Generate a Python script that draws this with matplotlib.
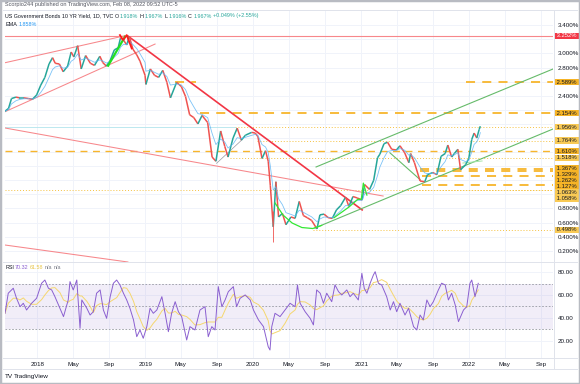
import numpy as np
import pandas as pd
import matplotlib
matplotlib.use("Agg")
import matplotlib.pyplot as plt
import matplotlib.dates as mdates
import matplotlib.transforms as mtransforms
from matplotlib.collections import LineCollection
from matplotlib.patches import Rectangle
from matplotlib.lines import Line2D

plt.rcParams["font.family"] = ["Liberation Sans", "DejaVu Sans"]

W, H = 580, 384

# 10Y yield closes (roughly two per month)
price_dates = [
    "2017-09-13", "2017-09-25", "2017-10-05", "2017-10-20", "2017-11-01", "2017-11-15",
    "2017-12-01", "2017-12-15", "2017-12-29", "2018-01-12", "2018-01-26", "2018-02-09",
    "2018-02-21", "2018-03-02", "2018-03-16", "2018-03-29", "2018-04-13", "2018-04-25",
    "2018-05-04", "2018-05-17", "2018-05-29", "2018-06-13", "2018-06-29", "2018-07-13",
    "2018-07-31", "2018-08-10", "2018-08-22", "2018-09-04", "2018-09-18", "2018-10-01",
    "2018-10-09", "2018-10-19", "2018-10-30", "2018-11-08", "2018-11-20", "2018-12-03",
    "2018-12-14", "2018-12-31", "2019-01-03", "2019-01-18", "2019-02-01", "2019-02-15",
    "2019-03-01", "2019-03-15", "2019-03-27", "2019-04-17", "2019-05-03", "2019-05-17",
    "2019-05-31", "2019-06-14", "2019-06-28", "2019-07-12", "2019-07-31", "2019-08-15",
    "2019-08-28", "2019-09-13", "2019-09-27", "2019-10-08", "2019-10-25", "2019-11-08",
    "2019-11-22", "2019-12-06", "2019-12-27", "2020-01-08", "2020-01-17", "2020-01-31",
    "2020-02-12", "2020-02-21", "2020-02-28", "2020-03-09", "2020-03-18", "2020-03-27",
    "2020-04-09", "2020-04-21", "2020-05-08", "2020-05-22", "2020-06-05", "2020-06-19",
    "2020-07-02", "2020-07-17", "2020-08-04", "2020-08-14", "2020-08-28", "2020-09-11",
    "2020-09-25", "2020-10-09", "2020-10-23", "2020-11-09", "2020-11-20", "2020-12-04",
    "2020-12-18", "2021-01-04", "2021-01-12", "2021-01-29", "2021-02-12", "2021-02-25",
    "2021-03-05", "2021-03-19", "2021-03-31", "2021-04-14", "2021-04-30", "2021-05-12",
    "2021-05-28", "2021-06-11", "2021-06-17", "2021-06-30", "2021-07-19", "2021-08-04",
    "2021-08-13", "2021-08-31", "2021-09-14", "2021-09-28", "2021-10-12", "2021-10-21",
    "2021-11-03", "2021-11-12", "2021-11-24", "2021-12-03", "2021-12-20", "2021-12-31",
    "2022-01-10", "2022-01-18", "2022-01-27", "2022-02-04", "2022-02-08",
]
price_close = [
    2.18, 2.22, 2.36, 2.38, 2.37, 2.37,
    2.36, 2.35, 2.41, 2.55, 2.66, 2.85,
    2.94, 2.86, 2.85, 2.74, 2.82, 3.02,
    2.95, 3.11, 2.78, 2.97, 2.86, 2.83,
    2.96, 2.87, 2.82, 2.90, 3.05, 3.08,
    3.22, 3.19, 3.12, 3.24, 3.06, 2.98,
    2.89, 2.69, 2.56, 2.78, 2.69, 2.66,
    2.76, 2.59, 2.37, 2.59, 2.53, 2.39,
    2.13, 2.09, 2.00, 2.12, 2.02, 1.53,
    1.47, 1.90, 1.68, 1.53, 1.80, 1.94,
    1.77, 1.84, 1.88, 1.87, 1.82, 1.51,
    1.62, 1.47, 1.13, 0.54, 1.18, 0.68,
    0.73, 0.57, 0.68, 0.66, 0.90, 0.70,
    0.67, 0.63, 0.51, 0.71, 0.72, 0.67,
    0.66, 0.78, 0.84, 0.96, 0.83, 0.97,
    0.95, 0.92, 1.14, 1.07, 1.20, 1.52,
    1.57, 1.72, 1.74, 1.64, 1.63, 1.69,
    1.59, 1.45, 1.58, 1.45, 1.19, 1.18,
    1.28, 1.31, 1.28, 1.54, 1.58, 1.70,
    1.53, 1.58, 1.64, 1.35, 1.42, 1.51,
    1.78, 1.87, 1.80, 1.92, 1.967,
]
spike_dates = ["2020-03-09"]
spike_low = [0.32]
spike_high = [0.76]

# RSI (days after 2018-01-01)
rsi_days = [
    -110, -99, -82, -71, -59, -48, -37, -20, -3, 14, 25, 37, 48, 59, 76, 88, 104, 110,
    121, 133, 144, 150, 167, 178, 189, 200, 212, 223, 234, 246, 257, 268, 279, 291, 302,
    313, 325, 336, 347, 358, 370, 381, 392, 404, 421, 432, 443, 454, 466, 477, 488, 505,
    516, 533, 550, 567, 578, 590, 601, 612, 624, 635, 646, 663, 674, 686, 703, 720, 731,
    748, 765, 781, 787, 793, 804, 821, 838, 855, 872, 880, 889, 906, 923, 934, 945, 957,
    968, 979, 996, 1007, 1019, 1030, 1047, 1058, 1069, 1086, 1098, 1106, 1115, 1126, 1137,
    1143, 1154, 1165, 1182, 1194, 1205, 1216, 1227, 1244, 1256, 1273, 1284, 1295, 1306,
    1318, 1329, 1340, 1357, 1368, 1380, 1391, 1402, 1414, 1425, 1442, 1453, 1464, 1470,
    1481, 1492,
]
rsi_vals = [
    44.0, 61.6, 66.0, 57.2, 49.8, 52.8, 46.9, 52.8, 57.2, 70.4, 73.2, 66.0, 64.5, 58.6,
    48.4, 41.1, 55.7, 71.8, 64.5, 73.2, 30.9, 55.7, 48.4, 42.5, 45.4, 61.6, 64.5, 46.9,
    39.6, 58.6, 70.4, 73.2, 68.9, 61.6, 55.7, 48.4, 38.2, 23.5, 29.4, 22.1, 32.3, 48.4,
    44.0, 46.9, 58.6, 44.0, 27.9, 44.0, 54.2, 45.4, 41.1, 20.6, 32.3, 29.4,
    46.9, 49.8, 23.5, 32.3, 29.4, 67.4, 49.8, 55.7, 63.0, 67.4, 49.8, 57.2, 60.1, 55.7,
    46.9, 38.2, 32.3, 14.7, 11.8, 32.3, 44.0, 41.1, 46.9, 52.8, 49.8, 68.9, 52.8, 45.4,
    39.6, 33.8, 64.5, 61.6, 52.8, 61.6, 54.2, 68.9, 63.0, 60.1, 64.5, 58.6, 61.6, 55.7,
    79.1, 66.0, 61.6, 70.4, 77.6, 80.5, 70.4, 68.9, 58.6, 46.9, 54.2, 45.4, 52.8, 42.5,
    48.4, 32.3, 29.4, 42.5, 38.2, 55.7, 49.8, 54.2, 64.5, 70.4, 68.9, 55.7, 61.6, 51.3,
    36.7, 46.9, 49.8, 70.4, 73.2, 58.6, 70.32,
]

# horizontal levels drawn on the chart
level_vals = [3.252, 2.589, 2.154, 1.956, 1.764, 1.610, 1.518, 1.367, 1.329, 1.262,
              1.127, 1.063, 1.058, 0.498]
level_from = ["2017-09-13", "2021-12-20", "2019-07-05", "2019-11-01", "2020-01-14",
              "2017-09-13", "2019-10-14", "2021-07-19", "2021-07-19", "2021-07-25",
              "2021-07-25", "2021-06-05", "2017-09-13", "2020-07-21"]
level_kind = ["red", "dash", "dash", "dot", "dot", "dash", "dot", "dash", "dash", "dash",
              "dash", "dot", "dot", "dot"]
# short extra segment of the 2.589 level near its April 2019 origin
short_level = [("2019-04-10", "2019-06-20", 2.589)]

# trendlines (date0, value0, date1, value1)
red_thin = [("2017-09-13", 2.868, "2018-10-24", 3.251),
            ("2017-09-13", 2.173, "2019-02-03", 3.133),
            ("2017-09-13", 1.942, "2021-03-16", 0.977),
            ("2017-09-13", 0.282, "2018-11-03", 0.041)]
red_thick = [("2018-11-03", 3.247, "2021-01-04", 0.78)]
red_zigzag_d = ["2018-10-07", "2018-10-18", "2018-10-30", "2018-11-16"]
red_zigzag_v = [3.26, 3.19, 3.26, 3.07]
green_thick = [("2018-08-28", 2.826, "2018-10-24", 3.237)]
green_channel = [("2020-08-01", 1.389, "2022-10-12", 2.779),
                 ("2020-07-28", 0.523, "2022-10-12", 1.928),
                 ("2021-04-08", 1.59, "2021-07-19", 1.21)]
green_light = [("2021-12-11", 1.445, "2022-02-14", 1.474)]
cup_d = ["2020-03-15", "2020-04-11", "2020-05-12", "2020-06-14", "2020-07-21", "2020-08-20"]
cup_v = [0.878, 0.708, 0.594, 0.530, 0.516, 0.56]
flag_d = ["2020-10-01", "2020-11-20", "2020-12-20", "2021-01-01", "2021-01-08", "2021-01-20"]
flag_v = [0.67, 0.82, 0.93, 0.93, 1.16, 0.99]
gray_thin = [("2019-08-30", 1.441, "2019-11-23", 1.77)]

xmin, xmax = "2017-09-13", "2022-10-12"

d = lambda s: mdates.date2num(pd.Timestamp(s))
dates = np.array([d(s) for s in price_dates])
close = np.array(price_close)
ema = pd.Series(close).ewm(span=4).mean().values
base = d("2018-01-01")
rx = base + np.array(rsi_days)
rv = np.array(rsi_vals)
rma = pd.Series(rv).rolling(5, min_periods=1).mean().values

fig = plt.figure(figsize=(W / 100, H / 100), dpi=100)
fig.patch.set_facecolor("white")
ax = fig.add_axes([5 / W, 1 - 262 / H, 548 / W, 252 / H])
ax2 = fig.add_axes([5 / W, 1 - 358 / H, 548 / W, 96 / H], sharex=ax)

grid_c = "#f0f3fa"
txt_c = "#131722"
for a in (ax, ax2):
    for s in a.spines.values():
        s.set_visible(False)
    a.grid(True, color=grid_c, lw=0.7)
    a.set_axisbelow(True)
    a.yaxis.tick_right()
    a.tick_params(length=0, labelsize=4.5, labelcolor=txt_c, pad=3.5)

ax.set_xlim(d(xmin), d(xmax))
ax.set_ylim(0.041, 3.616)
px = (ax.get_ylim()[1] - ax.get_ylim()[0]) / 252  # data units per pixel

# price scale boxes, stacked so they do not overlap
gap = 6.0 * px
box_pos = []
prev = None
for v, k in sorted(zip(level_vals, level_kind), reverse=True):
    pos = v if prev is None or prev - v >= gap else prev - gap
    prev = pos
    box_pos.append((pos, v, k))

# tick labels hidden where a box sits on top of them, as on TradingView
yt = np.round(np.arange(0.2, 3.41, 0.2), 3)
ylab = []
for t in yt:
    covered = any(abs(t - p) < 6.5 * px for p, _, _ in box_pos)
    ylab.append("" if covered else "%.3f%%" % t)
ax.set_yticks(yt)
ax.set_yticklabels(ylab)
ax.tick_params(axis="x", labelbottom=False)

ticks = []
labels = []
for y in range(2018, 2023):
    for m, lab in ((1, str(y)), (5, "May"), (9, "Sep")):
        ticks.append(d("%d-%02d-01" % (y, m)))
        labels.append(lab)
ax2.set_xticks(ticks)
ax2.set_xticklabels(labels)
ax2.tick_params(axis="x", pad=3)

# levels
orange = "#f7b52c"
for v, f, k in zip(level_vals, level_from, level_kind):
    if k == "red":
        ax.plot([d(f), d(xmax)], [v, v], color="#f7878b", lw=0.8, zorder=2)
    elif k == "dash":
        lw = 1.0 if abs(v - 1.61) < 0.01 else 1.3
        ax.plot([d(f), d(xmax)], [v, v], color=orange, lw=lw, ls=(0, (5, 4)), zorder=2)
    else:
        ax.plot([d(f), d(xmax)], [v, v], color="#f5c242", lw=0.7, ls=(0, (1, 2)), zorder=2)
for a0, a1, v in short_level:
    ax.plot([d(a0), d(a1)], [v, v], color=orange, lw=1.3, ls=(0, (5, 4)), zorder=2)
ax.plot([d(xmin), d("2019-11-01")], [1.956, 1.956], color="#b2e4ec", lw=0.6, zorder=2)

for a0, v0, a1, v1 in red_thin:
    ax.plot([d(a0), d(a1)], [v0, v1], color="#f7878b", lw=0.75, zorder=3)
for a0, v0, a1, v1 in red_thick:
    ax.plot([d(a0), d(a1)], [v0, v1], color="#f23645", lw=1.2, zorder=3)
for a0, v0, a1, v1 in green_channel:
    ax.plot([d(a0), d(a1)], [v0, v1], color="#66bb6a", lw=0.8, zorder=3)
for a0, v0, a1, v1 in green_light:
    ax.plot([d(a0), d(a1)], [v0, v1], color="#a5e6a8", lw=0.7, zorder=3)
for a0, v0, a1, v1 in gray_thin:
    ax.plot([d(a0), d(a1)], [v0, v1], color="#9598a1", lw=0.5, zorder=3)

# price
pts = np.column_stack([dates, close])
segs = np.stack([pts[:-1], pts[1:]], axis=1)
cols = ["#26a69a" if b >= a else "#ef5350" for a, b in zip(close[:-1], close[1:])]
ax.add_collection(LineCollection(segs, colors=cols, lw=1.1, zorder=4))
ax.vlines([d(s) for s in spike_dates], spike_low, spike_high, color="#ef5350", lw=0.6, zorder=4)
ax.plot(dates, ema, color="#5bb4f5", lw=0.6, alpha=0.8, zorder=4)

for a0, v0, a1, v1 in green_thick:
    ax.plot([d(a0), d(a1)], [v0, v1], color="#22e022", lw=1.6, zorder=5)
ax.plot([d(s) for s in red_zigzag_d], red_zigzag_v, color="#ff1c1c", lw=1.3, zorder=5)
ax.plot([d(s) for s in cup_d], cup_v, color="#33e833", lw=0.9, zorder=5)
ax.plot([d(s) for s in flag_d], flag_v, color="#33e833", lw=0.9, zorder=5)

trans = mtransforms.blended_transform_factory(ax.transAxes, ax.transData)
for pos, v, k in box_pos:
    fc = "#f23645" if k == "red" else ("#f6b426" if k == "dash" else "#f9ca55")
    tc = "white" if k == "red" else txt_c
    ax.text(1.0035, pos, " %.3f%% " % v, transform=trans, fontsize=4.2, color=tc,
            va="center", ha="left", zorder=10, clip_on=False,
            bbox=dict(boxstyle="square,pad=0.1", fc=fc, ec="none"))

# RSI pane
ax2.set_ylim(4.8, 89.0)
ax2.set_yticks([20, 40, 60, 80])
ax2.set_yticklabels(["20.00", "40.00", "60.00", "80.00"])
ax2.axhspan(30, 70, color="#7e57c2", alpha=0.1, lw=0, zorder=1)
for lv in (30, 50, 70):
    ax2.axhline(lv, color="#9598a1", lw=0.6, ls=(0, (2, 2)), zorder=2)
ax2.plot(rx, rma, color="#f5d76e", lw=0.7, zorder=3)
ax2.plot(rx, rv, color="#8a5fd0", lw=0.7, zorder=4)

# frame lines
line_c = "#e0e3eb"
for y in (9.5, 262, 358, 369):
    fig.add_artist(Line2D([3 / W, 577 / W], [1 - y / H, 1 - y / H], color=line_c, lw=0.7))
fig.add_artist(Line2D([553.5 / W, 553.5 / W], [1 - 9.5 / H, 1 - 369 / H], color=line_c, lw=0.7))
fig.add_artist(Rectangle((0, 0), 1, 1, transform=fig.transFigure, fill=False,
                         ec="#b8bbc2", lw=2.5))

# header texts
r = fig.canvas.get_renderer()


def pieces(x, y, parts, size=3.9):
    for s, c in parts:
        t = fig.text(x / W, 1 - y / H, s, color=c, fontsize=size, va="center", ha="left")
        x += t.get_window_extent(renderer=r).width + 1.2


teal = "#26a69a"
pieces(5, 4.5, [("Scorpio244 published on TradingView.com, Feb 08, 2022 09:52 UTC-5", "#50535e")], 4.0)
pieces(5, 16, [("US Government Bonds 10 YR Yield, 1D, TVC", txt_c), ("O", txt_c), ("1.918%", teal),
               ("H", txt_c), ("1.967%", teal), ("L", txt_c), ("1.916%", teal), ("C", txt_c),
               ("1.967%", teal), ("+0.049% (+2.55%)", teal)])
pieces(5, 24, [("EMA", txt_c), ("1.858%", "#2196f3")])
pieces(5, 267.5, [("RSI", txt_c), ("70.32", "#8a5fd0"), ("61.58", "#e8c547"), ("n/a", "#787b86"),
                  ("n/a", "#787b86")])
pieces(5, 376.5, [("TV", "#131722"), ("TradingView", "#131722")], 4.6)

fig.savefig("out.png", dpi=100)
